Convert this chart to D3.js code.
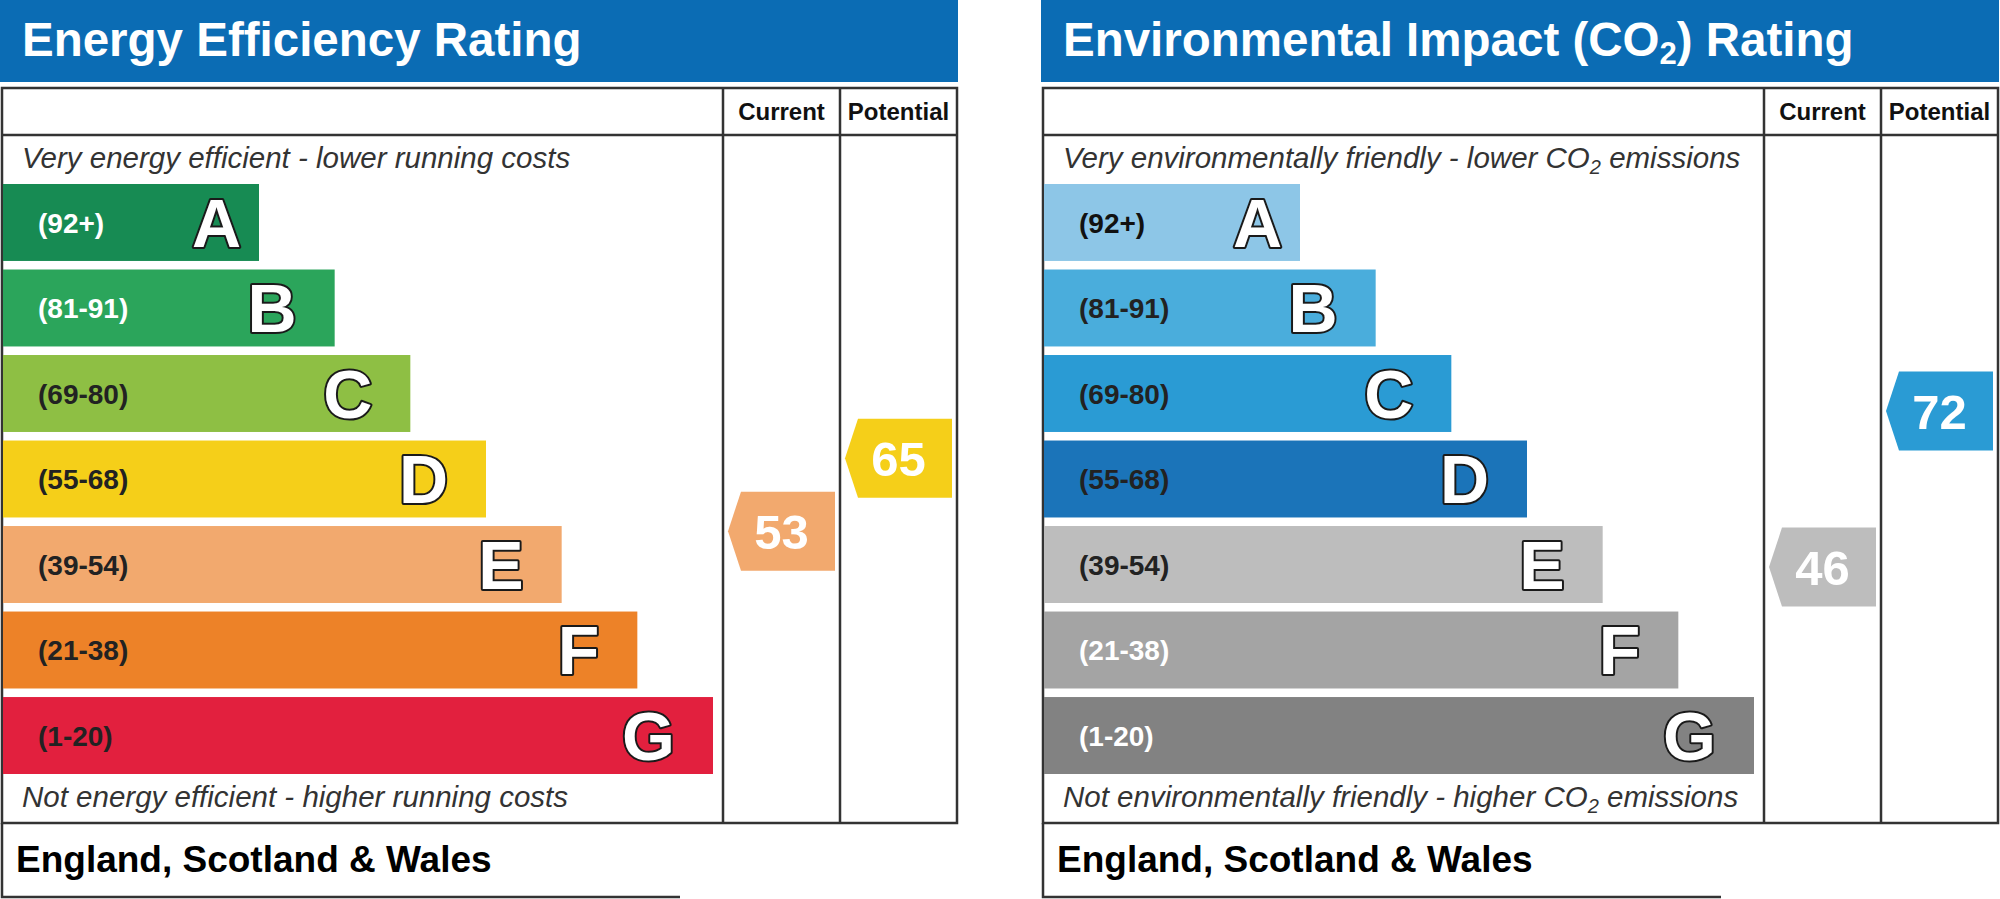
<!DOCTYPE html>
<html>
<head>
<meta charset="utf-8">
<script src="https://cdn.jsdelivr.net/npm/d3@7"></script>
<style>
  body { margin: 0; background: #fff; }
  text { font-family: "Liberation Sans", Arial, sans-serif; }
</style>
</head>
<body>
<div id="chart"></div>
<script>
// rating bands, best to worst
const bandLetters = ["A", "B", "C", "D", "E", "F", "G"];
const bandLabels = ["(92+)", "(81-91)", "(69-80)", "(55-68)", "(39-54)", "(21-38)", "(1-20)"];
const bandLow = [92, 81, 69, 55, 39, 21, 1];
const bandHigh = [100, 91, 80, 68, 54, 38, 20];

// scores
const energyCurrent = 53;
const energyPotential = 65;
const co2Current = 46;
const co2Potential = 72;

// colours
const energyColours = ["#178b53", "#2ba55b", "#8ebf44", "#f5cf19", "#f2a96e", "#ed8228", "#e2203e"];
const energyLabelInk = ["#fff", "#fff", "#222", "#222", "#222", "#222", "#222"];
const co2Colours = ["#8dc6e7", "#4aaddc", "#2a9bd4", "#1b74b9", "#bdbdbd", "#a4a4a4", "#828282"];
const co2LabelInk = ["#111", "#222", "#222", "#222", "#222", "#fff", "#fff"];

const svg = d3.select("#chart").append("svg")
    .attr("width", 2000)
    .attr("height", 899);

// write text with optional subscript pieces: parts = [[str, isSub], ...]
function richText(sel, parts, subSize, subDrop) {
    let down = false;
    parts.forEach(function(p) {
        let t = sel.append("tspan").text(p[0]);
        if (p[1]) {
            t.attr("font-size", subSize).attr("dy", subDrop);
            down = true;
        } else if (down) {
            t.attr("dy", -subDrop);
            down = false;
        }
    });
}

function drawPanel(offsetX, opts) {
    let g = svg.append("g").attr("transform", "translate(" + offsetX + ",0)");

    let left = 2, right = 957, colCur = 723, colPot = 840;
    let tableTop = 88, headRow = 135, tableBottom = 823, footBottom = 897, footRight = 680;
    let ink = "#333";

    // title bar
    g.append("rect")
        .attr("x", 0).attr("y", 0)
        .attr("width", 958).attr("height", 82)
        .attr("fill", "#0b6cb4");

    let title = g.append("text")
        .attr("x", 22).attr("y", 56)
        .attr("fill", "#fff")
        .attr("font-size", 47.5)
        .attr("font-weight", "bold");
    richText(title, opts.title, 31, 8);

    // scales
    let y = d3.scaleBand()
        .domain(bandLetters)
        .range([184, 774])
        .paddingInner(0.1);

    let barEnd = d3.scaleLinear()
        .domain([0, bandLetters.length - 1])
        .range([259, 713]);

    // score -> vertical position, linear inside each band
    let dom = [], rng = [];
    for (let i = bandLetters.length - 1; i >= 0; i--) {
        dom.push(bandLow[i], bandHigh[i]);
        rng.push(y(bandLetters[i]) + y.bandwidth(), y(bandLetters[i]));
    }
    let scoreY = d3.scaleLinear().domain(dom).range(rng);

    // table frame
    let frame = g.append("g")
        .attr("stroke", ink)
        .attr("stroke-width", 2.5)
        .attr("fill", "none");
    frame.append("rect")
        .attr("x", left).attr("y", tableTop)
        .attr("width", right - left).attr("height", tableBottom - tableTop);
    frame.append("line")
        .attr("x1", left).attr("x2", right)
        .attr("y1", headRow).attr("y2", headRow);
    [colCur, colPot].forEach(function(cx) {
        frame.append("line")
            .attr("x1", cx).attr("x2", cx)
            .attr("y1", tableTop).attr("y2", tableBottom);
    });
    // footer box
    frame.append("path")
        .attr("d", "M" + left + "," + tableBottom + "V" + footBottom + "H" + footRight);

    // column headers
    g.selectAll(".colhead")
        .data([["Current", colCur, colPot], ["Potential", colPot, right]])
        .enter().append("text")
        .attr("class", "colhead")
        .attr("x", d => (d[1] + d[2]) / 2)
        .attr("y", 120)
        .attr("text-anchor", "middle")
        .attr("font-size", 24)
        .attr("font-weight", "bold")
        .attr("fill", "#111")
        .text(d => d[0]);

    // top and bottom notes
    let topNote = g.append("text")
        .attr("x", 22).attr("y", 168)
        .attr("font-size", 29.5)
        .attr("font-style", "italic")
        .attr("fill", "#333");
    richText(topNote, opts.topNote, 20, 6);

    let bottomNote = g.append("text")
        .attr("x", 22).attr("y", 807)
        .attr("font-size", 29.5)
        .attr("font-style", "italic")
        .attr("fill", "#333");
    richText(bottomNote, opts.bottomNote, 20, 6);

    g.append("text")
        .attr("x", 16).attr("y", 872)
        .attr("font-size", 37)
        .attr("font-weight", "bold")
        .attr("fill", "#000")
        .text("England, Scotland & Wales");

    // bands
    let bands = g.selectAll(".band")
        .data(bandLetters)
        .enter().append("g")
        .attr("class", "band");

    bands.append("rect")
        .attr("x", 3)
        .attr("y", d => y(d))
        .attr("width", (d, i) => barEnd(i) - 3)
        .attr("height", y.bandwidth())
        .attr("fill", (d, i) => opts.colours[i]);

    bands.append("text")
        .attr("x", 38)
        .attr("y", d => y(d) + y.bandwidth() / 2)
        .attr("dy", "0.36em")
        .attr("font-size", 28)
        .attr("font-weight", "bold")
        .attr("fill", (d, i) => opts.labelInk[i])
        .text((d, i) => bandLabels[i]);

    bands.append("text")
        .attr("x", (d, i) => barEnd(i) - (i === 0 ? 18 : 38))
        .attr("y", d => y(d) + y.bandwidth() / 2)
        .attr("dy", "0.36em")
        .attr("text-anchor", "end")
        .attr("font-size", 68)
        .attr("font-weight", "bold")
        .attr("fill", "#fff")
        .attr("stroke", "#1a1a1a")
        .attr("stroke-width", 4)
        .attr("paint-order", "stroke")
        .attr("stroke-linejoin", "round")
        .text(d => d);

    // score arrows
    function bandOf(score) {
        return bandLetters.findIndex((d, i) => score >= bandLow[i] && score <= bandHigh[i]);
    }

    let arrows = [[opts.current, colCur, colPot], [opts.potential, colPot, right]];
    let ag = g.selectAll(".arrow")
        .data(arrows)
        .enter().append("g")
        .attr("class", "arrow");

    let h = 79, tip = 13;
    ag.append("path")
        .attr("d", function(d) {
            let x0 = d[1] + 5, x1 = d[2] - 5, yc = scoreY(d[0]);
            return "M" + (x0 + tip) + "," + (yc - h / 2) +
                "H" + x1 + "V" + (yc + h / 2) +
                "H" + (x0 + tip) + "L" + x0 + "," + yc + "Z";
        })
        .attr("fill", d => opts.colours[bandOf(d[0])]);

    ag.append("text")
        .attr("x", d => (d[1] + d[2]) / 2)
        .attr("y", d => scoreY(d[0]))
        .attr("dy", "0.36em")
        .attr("text-anchor", "middle")
        .attr("font-size", 49)
        .attr("font-weight", "bold")
        .attr("fill", "#fff")
        .text(d => d[0]);
}

drawPanel(0, {
    title: [["Energy Efficiency Rating", false]],
    topNote: [["Very energy efficient - lower running costs", false]],
    bottomNote: [["Not energy efficient - higher running costs", false]],
    colours: energyColours,
    labelInk: energyLabelInk,
    current: energyCurrent,
    potential: energyPotential
});

drawPanel(1041, {
    title: [["Environmental Impact (CO", false], ["2", true], [") Rating", false]],
    topNote: [["Very environmentally friendly - lower CO", false], ["2", true], [" emissions", false]],
    bottomNote: [["Not environmentally friendly - higher CO", false], ["2", true], [" emissions", false]],
    colours: co2Colours,
    labelInk: co2LabelInk,
    current: co2Current,
    potential: co2Potential
});
</script>
</body>
</html>
